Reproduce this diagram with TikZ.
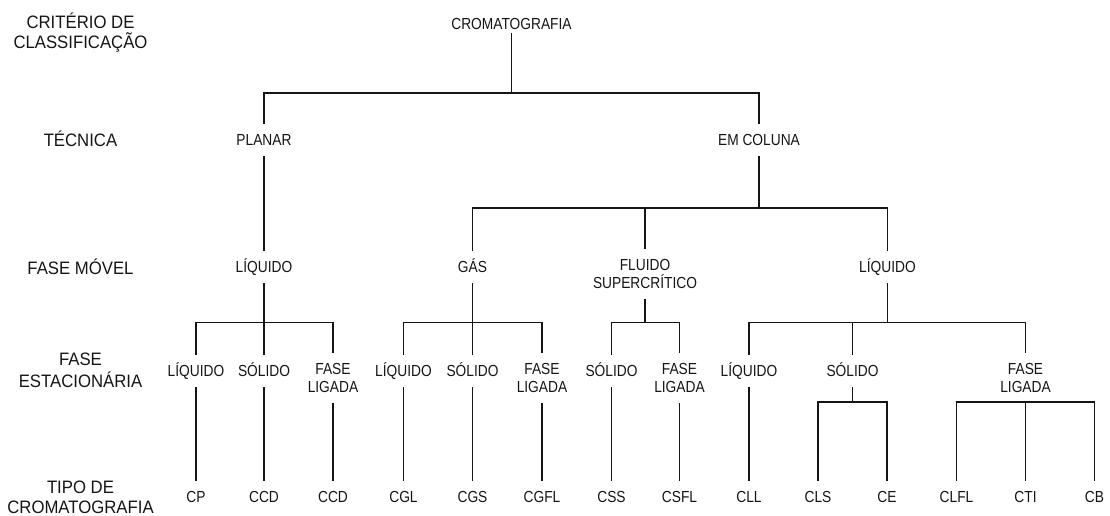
\documentclass[tikz,border=0pt]{standalone}
\usepackage{fontspec}
\setmainfont{Liberation Sans}[FakeStretch=0.86]
\newfontfamily\rowfont{Liberation Sans}[FakeStretch=0.93]
\definecolor{ink}{HTML}{151515}
\begin{document}
\begin{tikzpicture}[x=1pt,y=-1pt,
  lab/.style={inner xsep=1pt, inner ysep=10.3pt, text=ink, font=\fontsize{16}{18}\selectfont},
  one/.style={lab, text height=11.4pt, text depth=0pt},
  two/.style={lab, align=center},
  crit/.style={text=ink, inner sep=0pt, align=center, font=\rowfont\fontsize{18}{20}\selectfont},
  critone/.style={crit, text height=12.9pt, text depth=0pt},
  link/.style={draw=ink, line width=1.5pt}]
\useasboundingbox (0,0) rectangle (1110,516);
% row labels
\node[crit] (kc) at (80.5,33) {CRITÉRIO DE\\CLASSIFICAÇÃO};
\node[critone] (kt) at (80.5,140) {TÉCNICA};
\node[critone] (km) at (80.5,268) {FASE MÓVEL};
\node[crit, font=\rowfont\fontsize{18}{22}\selectfont] (ke) at (80.5,370) {FASE\\ESTACIONÁRIA};
\node[crit] (kp) at (80.5,497) {TIPO DE\\CROMATOGRAFIA};
% bar levels
\coordinate (b1) at (0,93);
\coordinate (b2) at (0,208);
\coordinate (b3) at (0,322.5);
\coordinate (b4) at (0,402);
% tree nodes
\node[one, inner ysep=3.3pt] (crom) at (511.5,24) {CROMATOGRAFIA};
\node[one] (planar) at (264,140) {PLANAR};
\node[one] (emcol) at (759,140) {EM COLUNA};
\node[one] (liqP) at (264,267) {LÍQUIDO};
\node[one] (gas) at (472.5,267) {GÁS};
\node[two] (fluido) at (645,274) {FLUIDO\\SUPERCRÍTICO};
\node[one] (liqC) at (887.5,267) {LÍQUIDO};
\node[one] (l1) at (196,371) {LÍQUIDO};
\node[one] (s1) at (264,371) {SÓLIDO};
\node[two] (f1) at (333,378) {FASE\\LIGADA};
\node[one] (l2) at (403.5,371) {LÍQUIDO};
\node[one] (s2) at (472.5,371) {SÓLIDO};
\node[two] (f2) at (542,378) {FASE\\LIGADA};
\node[one] (s3) at (611.5,371) {SÓLIDO};
\node[two] (f3) at (679.5,378) {FASE\\LIGADA};
\node[one] (l4) at (749,371) {LÍQUIDO};
\node[one] (s4) at (852.5,371) {SÓLIDO};
\node[two] (f4) at (1025.5,378) {FASE\\LIGADA};
% leaves
\node[one] (cp) at (196,497) {CP};
\node[one] (ccd1) at (264,497) {CCD};
\node[one] (ccd2) at (333,497) {CCD};
\node[one] (cgl) at (403.5,497) {CGL};
\node[one] (cgs) at (472.5,497) {CGS};
\node[one] (cgfl) at (542,497) {CGFL};
\node[one] (css) at (611.5,497) {CSS};
\node[one] (csfl) at (679.5,497) {CSFL};
\node[one] (cll) at (749,497) {CLL};
\node[one] (cls) at (818,497) {CLS};
\node[one] (ce) at (887,497) {CE};
\node[one] (clfl) at (956.5,497) {CLFL};
\node[one] (cti) at (1025.5,497) {CTI};
\node[one] (cb) at (1094.5,497) {CB};
% connectors level 1
\draw[link] (crom.south) -- (crom.south |- b1);
\draw[link] (planar.north) |- (b1 -| emcol.north) -- (emcol.north);
% level 2
\draw[link] (planar.south) -- (liqP.north);
\draw[link] (emcol.south) -- (emcol.south |- b2);
\draw[link] (gas.north) |- (b2 -| liqC.north) -- (liqC.north);
\draw[link] (fluido.north) -- (fluido.north |- b2);
% level 3
\draw[link] (liqP.south) -- (s1.north);
\draw[link] (l1.north) |- (b3 -| f1.north) -- (f1.north);
\draw[link] (gas.south) -- (s2.north);
\draw[link] (l2.north) |- (b3 -| f2.north) -- (f2.north);
\draw[link] (fluido.south) -- (fluido.south |- b3);
\draw[link] (s3.north) |- (b3 -| f3.north) -- (f3.north);
\draw[link] (liqC.south) -- (liqC.south |- b3);
\draw[link] (l4.north) |- (b3 -| f4.north) -- (f4.north);
\draw[link] (s4.north) -- (s4.north |- b3);
% level 4
\draw[link] (l1.south) -- (cp.north);
\draw[link] (s1.south) -- (ccd1.north);
\draw[link] (f1.south) -- (ccd2.north);
\draw[link] (l2.south) -- (cgl.north);
\draw[link] (s2.south) -- (cgs.north);
\draw[link] (f2.south) -- (cgfl.north);
\draw[link] (s3.south) -- (css.north);
\draw[link] (f3.south) -- (csfl.north);
\draw[link] (l4.south) -- (cll.north);
\draw[link] (s4.south) -- (s4.south |- b4);
\draw[link] (cls.north) |- (b4 -| ce.north) -- (ce.north);
\draw[link] (clfl.north) |- (b4 -| cb.north) -- (cb.north);
\draw[link] (f4.south) -- (cti.north);
\end{tikzpicture}
\end{document}
